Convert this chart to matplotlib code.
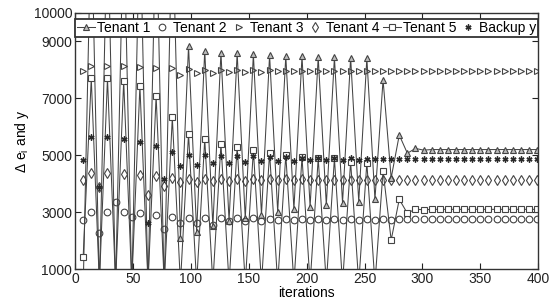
import matplotlib

matplotlib.use("Agg")
import matplotlib.pyplot as plt
import numpy as np

nan = np.nan

# sampled iterations (every 7th)
iters = list(range(7, 400, 7))

tenant1 = [300, 13500, 300, 13500, 300, 13500, 300, 13500, 300, 13500, 300, 13500,
           2080, 8840, 2310, 8680, 2510, 8610, 2690, 8590, 2780, 8550, 2900, 8520,
           3015, 8490, 3100, 8470, 3190, 8450, 3250, 8440, 3330, 8430, 3370, 8410,
           3450, 7650, 4200, 5710, 5070, 5240, 5180, 5200, 5200, 5200, 5200, 5200,
           5200, 5200, 5200, 5200, 5200, 5200, 5200, 5200, 5200]
tenant2 = [2720, 3015, 2255, 3015, 3370, 2990, 2840, 2960, nan, 2900, 2400, 2820,
           2610, 2780, 2630, 2780, 2550, 2780, 2680, 2780, 2700, 2780, 2700, 2770,
           2710, 2770, 2710, 2770, 2720, 2770, 2720, 2760, 2720, 2760, 2720, 2760,
           2730, 2750, 2740, 2750, 2750, 2750, 2750, 2750, 2750, 2750, 2750, 2750,
           2750, 2750, 2750, 2750, 2750, 2750, 2750, 2750, 2750]
tenant3 = [7960, 8140, nan, 8130, nan, 8130, nan, 8100, nan, 8060, nan, 8050,
           7820, 8030, 7880, 8010, 7900, 8000, 7920, 7990, 7930, 7985, 7940, 7980,
           7945, 7975, 7950, 7975, 7950, 7970, 7955, 7970, 7955, 7965, 7955, 7965,
           7960, 7960, 7960, 7960, 7960, 7960, 7960, 7960, 7960, 7960, 7960, 7960,
           7960, 7960, 7960, 7960, 7960, 7960, 7960, 7960, 7960]
tenant4 = [4130, 4365, 3870, 4365, nan, 4340, nan, 4300, 3600, 4270, 3920, 4190,
           4050, 4165, 4070, 4165, 4090, 4165, 4100, 4150, 4105, 4160, 4120, 4150,
           4125, 4150, 4130, 4150, 4130, 4145, 4135, 4145, 4135, 4145, 4140, 4140,
           4140, 4140, 4140, 4140, 4140, 4140, 4140, 4140, 4140, 4140, 4140, 4140,
           4140, 4140, 4140, 4140, 4140, 4140, 4140, 4140, 4140]
tenant5 = [1430, 7700, 500, 7700, 500, 7610, 500, 7435, 500, 7080, 500, 6330,
           500, 5750, 500, 5560, 500, 5400, 500, 5300, 500, 5180, 500, 5090,
           500, 5010, 500, 4930, 500, 4890, 500, 4890, 500, 4770, 500, 4740,
           500, 4450, 2020, 3450, 2960, 3110, 3080, 3100, 3100, 3100, 3100, 3100,
           3100, 3100, 3100, 3100, 3100, 3100, 3100, 3100, 3100]
backup_y = [4830, 5650, 3870, 5630, nan, 5560, nan, 5480, 2630, 5325, 4150, 5130,
            4620, 5010, 4660, 5010, 4720, 4990, 4740, 4970, 4760, 4960, 4790, 4940,
            4800, 4930, 4810, 4920, 4820, 4910, 4830, 4900, 4840, 4890, 4850, 4880,
            4860, 4870, 4870, 4870, 4870, 4870, 4870, 4870, 4870, 4870, 4870, 4870,
            4870, 4870, 4870, 4870, 4870, 4870, 4870, 4870, 4870]

x_ticks = [0, 50, 100, 150, 200, 250, 300, 350, 400]
y_ticks = [1000, 3000, 5000, 7000, 9000, 10000]

plt.rcParams["font.family"] = ["Liberation Sans", "DejaVu Sans"]
plt.rcParams["mathtext.default"] = "regular"

DARK = "#444444"

fig = plt.figure(figsize=(5.56, 3.01), dpi=100)
ax = fig.add_axes([0.135, 0.106, 0.833, 0.851])

ax.plot(iters, tenant1, color=DARK, lw=0.75, marker="^", ms=5,
        mfc="#bcbcbc", mec=DARK, mew=0.8, label="Tenant 1")
ax.plot(iters, tenant2, ls="none", marker="o", ms=4.8,
        mfc="none", mec=DARK, mew=0.8, label="Tenant 2")
ax.plot(iters, tenant3, ls="none", marker=">", ms=4.8,
        mfc="none", mec=DARK, mew=0.8, label="Tenant 3")
ax.plot(iters, tenant4, ls="none", marker="d", ms=5.2,
        mfc="none", mec=DARK, mew=0.8, label="Tenant 4")
ax.plot(iters, tenant5, color=DARK, lw=0.75, marker="s", ms=4,
        mfc="white", mec=DARK, mew=0.8, label="Tenant 5")
ax.plot(iters, backup_y, ls="none", marker=(6, 2, 0), ms=4.3,
        mec="#2a2a2a", mew=1.0, label="Backup y")

ax.set_xlim(0, 400)
ax.set_ylim(1000, 10000)
ax.set_xticks(x_ticks)
ax.set_yticks(y_ticks)
ax.tick_params(direction="in", length=4, width=0.8, top=True, right=True,
               labelsize=10, colors="#222222", pad=2)
for sp in ax.spines.values():
    sp.set_linewidth(1.0)
    sp.set_color("#333333")

ax.set_xlabel("iterations", fontsize=10, labelpad=0)
ax.set_ylabel("Δ e$_i$ and y", fontsize=10, labelpad=2)

leg = ax.legend(ncol=6, loc="upper center", bbox_to_anchor=(0.5, 0.978),
                fontsize=10, handlelength=1.3, handletextpad=0.15,
                columnspacing=0.2, borderpad=0.15, borderaxespad=0.0,
                fancybox=False, framealpha=1.0, edgecolor="#333333")
leg.get_frame().set_linewidth(1.3)

fig.savefig("out.png", dpi=100)
